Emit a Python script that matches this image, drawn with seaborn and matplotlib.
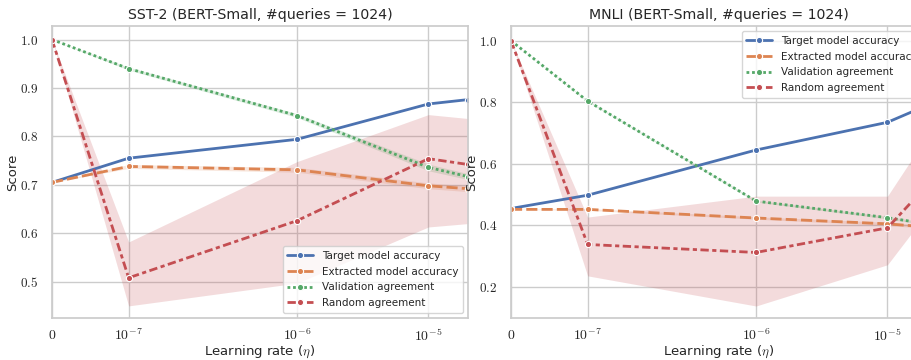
import numpy as np
import pandas as pd
import seaborn as sns
import matplotlib
matplotlib.use("Agg")
import matplotlib.pyplot as plt
from matplotlib.ticker import FixedLocator, FixedFormatter, FuncFormatter

# ---------------- data ----------------
learning_rates = [0.0, 1e-7, 1e-6, 1e-5, 2e-5]
metrics = ["Target model accuracy", "Extracted model accuracy",
           "Validation agreement", "Random agreement"]

# SST-2
sst_target = [0.705, 0.755, 0.794, 0.867, 0.876]
sst_extracted = [0.705, 0.738, 0.731, 0.698, 0.692]
sst_validation = [1.0, 0.940, 0.843, 0.736, 0.717]
sst_random = [1.0, 0.508, 0.626, 0.754, 0.742]
sst_extracted_lo = [0.705, 0.734, 0.726, 0.692, 0.686]
sst_extracted_hi = [0.705, 0.742, 0.736, 0.704, 0.698]
sst_validation_lo = [1.0, 0.937, 0.839, 0.729, 0.711]
sst_validation_hi = [1.0, 0.943, 0.847, 0.743, 0.723]
sst_random_lo = [1.0, 0.450, 0.497, 0.613, 0.620]
sst_random_hi = [1.0, 0.582, 0.748, 0.845, 0.837]

# MNLI
mnli_target = [0.455, 0.498, 0.645, 0.735, 0.790]
mnli_extracted = [0.452, 0.452, 0.424, 0.405, 0.395]
mnli_validation = [1.0, 0.804, 0.479, 0.425, 0.405]
mnli_random = [1.0, 0.338, 0.312, 0.392, 0.530]
mnli_extracted_lo = [0.452, 0.449, 0.420, 0.400, 0.390]
mnli_extracted_hi = [0.452, 0.455, 0.428, 0.410, 0.400]
mnli_validation_lo = [1.0, 0.802, 0.476, 0.421, 0.401]
mnli_validation_hi = [1.0, 0.806, 0.482, 0.429, 0.409]
mnli_random_lo = [1.0, 0.236, 0.138, 0.272, 0.440]
mnli_random_hi = [1.0, 0.427, 0.495, 0.495, 0.690]

x_ticks = [0.0, 1e-7, 1e-6, 1e-5]
x_ticklabels = ["$0$", "$10^{-7}$", "$10^{-6}$", "$10^{-5}$"]
titles = ["SST-2 (BERT-Small, #queries = 1024)", "MNLI (BERT-Small, #queries = 1024)"]

# ---------------- style ----------------
sns.set_theme(style="whitegrid", palette="deep")
plt.rcParams["font.family"] = ["DejaVu Sans"]
plt.rcParams["mathtext.fontset"] = "cm"

palette = sns.color_palette("deep", 4)

fig = plt.figure(figsize=(9.11, 3.6), dpi=100)
ax1 = fig.add_axes([52 / 911, 42 / 360, 416 / 911, 292 / 360])
ax2 = fig.add_axes([511 / 911, 42 / 360, 416 / 911, 292 / 360])


def long_df(series):
    rows = []
    for name, vals in zip(metrics, series):
        for x, v in zip(learning_rates, vals):
            rows.append({"lr": x, "Score": v, "metric": name})
    return pd.DataFrame(rows)


panels = [
    (ax1, [sst_target, sst_extracted, sst_validation, sst_random],
     [(None, None), (sst_extracted_lo, sst_extracted_hi),
      (sst_validation_lo, sst_validation_hi), (sst_random_lo, sst_random_hi)],
     (0.425, 1.028), [0.5, 0.6, 0.7, 0.8, 0.9, 1.0], "lower right", titles[0]),
    (ax2, [mnli_target, mnli_extracted, mnli_validation, mnli_random],
     [(None, None), (mnli_extracted_lo, mnli_extracted_hi),
      (mnli_validation_lo, mnli_validation_hi), (mnli_random_lo, mnli_random_hi)],
     (0.099, 1.048), [0.2, 0.4, 0.6, 0.8, 1.0], "upper right", titles[1]),
]

for ax, series, bands, ylim, yticks, legloc, title in panels:
    df = long_df(series)
    for (lo, hi), c in zip(bands, palette):
        if lo is not None:
            ax.fill_between(learning_rates, lo, hi, color=c, alpha=0.2, linewidth=0)
    sns.lineplot(data=df, x="lr", y="Score", hue="metric", style="metric",
                 hue_order=metrics, style_order=metrics,
                 markers=["o"] * 4, dashes=True, markersize=4.5,
                 markeredgecolor="white", markeredgewidth=0.8,
                 linewidth=2.0, errorbar=None, ax=ax)
    ax.set_xscale("symlog", linthresh=2e-7, linscale=1.05)
    ax.set_xlim(0, 2e-5)
    ax.xaxis.set_major_locator(FixedLocator(x_ticks))
    ax.xaxis.set_major_formatter(FixedFormatter(x_ticklabels))
    ax.xaxis.set_minor_locator(FixedLocator([]))
    ax.set_ylim(*ylim)
    ax.yaxis.set_major_locator(FixedLocator(yticks))
    ax.yaxis.set_major_formatter(FuncFormatter(lambda v, p: f"${v:.1f}$"))
    ax.tick_params(axis="y", labelsize=9.5, pad=4)
    ax.tick_params(axis="x", labelsize=10, pad=1)
    ax.set_xlabel(r"Learning rate ($\eta$)", fontsize=9.5, labelpad=0)
    ax.set_ylabel("Score", fontsize=9.5, labelpad=0)
    ax.set_title(title, fontsize=10.2, pad=5)
    sns.move_legend(ax, legloc, title=None, fontsize=7.5, frameon=True,
                    handlelength=2.5, borderpad=0.45, labelspacing=0.55,
                    handletextpad=0.8)

fig.savefig("out.png", dpi=100)
